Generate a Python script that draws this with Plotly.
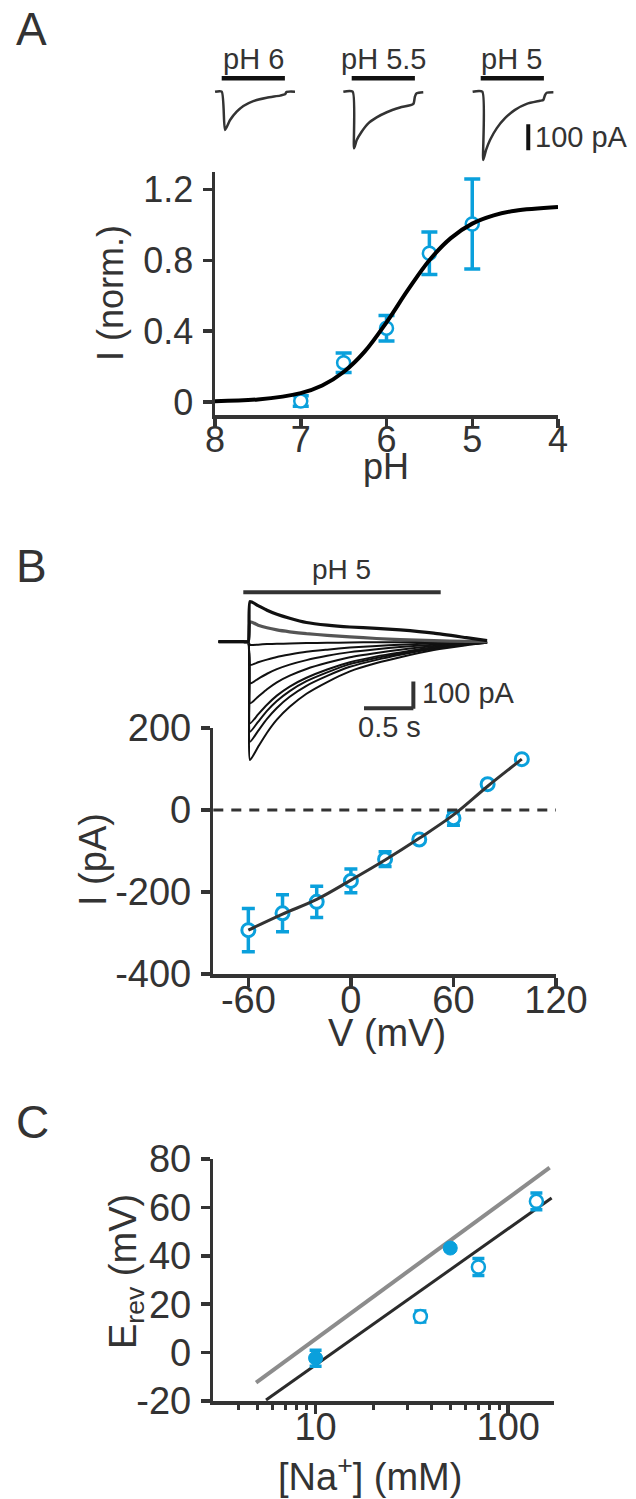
import plotly.graph_objects as go

# ---------------- DATA ----------------
# Panel A: pH dose-response (normalised current)
PH = [7.0, 6.5, 6.0, 5.5, 5.0]
I_NORM = [0.005, 0.222, 0.417, 0.841, 1.006]
I_NORM_ERR = [0.03, 0.055, 0.072, 0.12, 0.254]
PH_TICKS = [8, 7, 6, 5, 4]
I_NORM_TICKS = [0, 0.4, 0.8, 1.2]
I_NORM_TICKTEXT = ["0", "0.4", "0.8", "1.2"]
# Hill fit curve
FIT_PH = [8.0, 7.5, 7.0, 6.75, 6.5, 6.25, 6.0, 5.75, 5.5, 5.25, 5.0, 4.75, 4.5, 4.0]
FIT_I_NORM = [0.004, 0.014, 0.050, 0.093, 0.169, 0.287, 0.450, 0.633, 0.801,
              0.926, 1.008, 1.055, 1.081, 1.102]

# Panel A example traces (time in s from start of application, current in pA)
T_PH6 = [-0.42, 0.0, 0.21, 0.53, 0.95, 1.37, 2.0, 2.85, 3.69, 4.01, 4.11, 4.64]
I_PH6 = [0, 0, -147, -109, -77, -55, -36, -23, -15, -10, -1, 0]
T_PH55 = [-0.53, 0.06, 0.15, 0.32, 0.63, 1.05, 1.58, 2.22, 3.06, 3.9, 4.0, 4.11, 4.53]
I_PH55 = [0, 0, -218, -186, -154, -122, -99, -79, -61, -47, -19, -6, -2]
T_PH5 = [-0.51, 0.1, 0.16, 0.34, 0.59, 1.01, 1.54, 2.17, 2.91, 3.75, 3.96, 4.07, 4.18, 4.6]
I_PH5 = [0, 0, -263, -224, -186, -141, -102, -70, -47, -35, -32, -13, -4, -2]
PH_LABELS = ["pH 6", "pH 5.5", "pH 5"]

# Panel B example family of traces (time s, current pA)
T_B = [-0.25, 0.0, 0.05, 0.068, 0.15, 0.24, 0.34, 0.47, 0.64, 0.85, 1.08, 1.35, 1.59, 1.93, 2.26, 2.47]
TRACES_B = [
    [0, 0, 0, -443, -394, -341, -292, -244, -195, -151, -111, -80, -58, -31, -13, -4],
    [0, 0, 0, -375, -334, -289, -248, -206, -165, -128, -94, -68, -49, -26, -11, -4],
    [0, 0, 0, -337, -300, -259, -222, -185, -148, -115, -84, -61, -44, -24, -10, -3],
    [0, 0, 0, -306, -272, -236, -202, -168, -135, -104, -77, -55, -40, -21, -9, -3],
    [0, 0, 0, -231, -206, -178, -152, -127, -102, -79, -58, -42, -30, -16, -7, -2],
    [0, 0, 0, -156, -139, -120, -103, -86, -69, -53, -39, -28, -20, -11, -5, -2],
    [0, 0, 0, -87, -77, -67, -57, -48, -38, -30, -22, -16, -11, -6, -3, -1],
    [0, 0, 0, -12, -11, -9, -8, -7, -5, -4, -3, -2, -2, -1, 0, 0],
    [0, 0, 0, 75, 62, 52, 44, 37, 30, 24, 18, 12, 8, 4, 1, 0],
    [0, 0, 0, 150, 135, 118, 103, 88, 72, 62, 55, 50, 44, 32, 15, 4],
]

# Panel B I-V
V_MV = [-60, -40, -20, 0, 20, 40, 60, 80, 100]
I_PA = [-293, -252, -224, -173, -120, -72, -20, 63, 124]
I_PA_ERR = [53, 45, 38, 29, 18, 5, 17, 7, 5]
FIT_V = [-60, -40, -20, 0, 20, 40, 60, 80, 100]
FIT_I_PA = [-293, -254, -218, -171, -122, -69, -12, 58, 124]
V_TICKS = [-60, 0, 60, 120]
I_PA_TICKS = [-400, -200, 0, 200]

# Panel C: reversal potential vs [Na+]
NA_OPEN = [35, 70, 140]
E_OPEN = [14.9, 35.4, 62.5]
E_OPEN_ERR = [2.3, 3.5, 3.5]
NA_FILLED = [10, 50]
E_FILLED = [-2.3, 43.2]
E_FILLED_ERR = [3.3, 1.0]
GRAY_LINE_NA = [4.91, 164]
GRAY_LINE_E = [-12.4, 76.4]
BLACK_LINE_NA = [5.53, 168]
BLACK_LINE_E = [-19.6, 63.9]
NA_TICKS = [10, 100]
NA_MINOR = [4, 5, 6, 7, 8, 9, 20, 30, 40, 50, 60, 70, 80, 90]
E_TICKS = [-20, 0, 20, 40, 60, 80]

# ---------------- STYLE / GEOMETRY ----------------
W, H = 636, 1499
def px(x):
    return x / W
def py(y):
    return 1 - y / H

DARK = "#333333"
CYAN = "#0AA0DC"
FONT = "Liberation Sans, Arial, sans-serif"
TICK_A = 36
TICK_BC = 38
LBL = 29

fig = go.Figure()

# ---- Panel A dose response ----
fig.add_trace(go.Scatter(
    x=PH, y=I_NORM, mode="markers", xaxis="x", yaxis="y",
    marker=dict(symbol="circle", size=13, color="white", line=dict(color=CYAN, width=2.5)),
    error_y=dict(type="data", array=I_NORM_ERR, color=CYAN, thickness=3.5, width=8),
    cliponaxis=False, showlegend=False))
fig.add_trace(go.Scatter(
    x=FIT_PH, y=FIT_I_NORM, mode="lines", xaxis="x", yaxis="y",
    line=dict(color="#000000", width=4, shape="spline"), showlegend=False))

# ---- Panel A example traces ----
for t, i, ax in [(T_PH6, I_PH6, "x2"), (T_PH55, I_PH55, "x3"), (T_PH5, I_PH5, "x4")]:
    fig.add_trace(go.Scatter(x=t, y=i, mode="lines", xaxis=ax, yaxis="y2",
                             line=dict(color=DARK, width=2.5, shape="spline", smoothing=0.6),
                             showlegend=False))

# ---- Panel B traces ----
for k, tr in enumerate(TRACES_B):
    fig.add_trace(go.Scatter(x=T_B, y=tr, mode="lines", xaxis="x5", yaxis="y5",
                             line=dict(color="#555555" if k == 8 else "#111111",
                                       width=3.2 if k >= 8 else 2, shape="spline", smoothing=0.5),
                             showlegend=False))

# ---- Panel B IV ----
fig.add_trace(go.Scatter(
    x=V_MV, y=I_PA, mode="markers", xaxis="x6", yaxis="y6",
    marker=dict(symbol="circle", size=13, color="white", line=dict(color=CYAN, width=3)),
    error_y=dict(type="data", array=I_PA_ERR, color=CYAN, thickness=3.5, width=6.5),
    cliponaxis=False, showlegend=False))
fig.add_trace(go.Scatter(
    x=FIT_V, y=FIT_I_PA, mode="lines", xaxis="x6", yaxis="y6",
    line=dict(color=DARK, width=3, shape="spline"), showlegend=False))

# ---- Panel C ----
fig.add_trace(go.Scatter(
    x=GRAY_LINE_NA, y=GRAY_LINE_E, mode="lines", xaxis="x7", yaxis="y7",
    line=dict(color="#8C8C8C", width=4), showlegend=False))
fig.add_trace(go.Scatter(
    x=BLACK_LINE_NA, y=BLACK_LINE_E, mode="lines", xaxis="x7", yaxis="y7",
    line=dict(color="#2B2B2B", width=3), showlegend=False))
fig.add_trace(go.Scatter(
    x=NA_OPEN, y=E_OPEN, mode="markers", xaxis="x7", yaxis="y7",
    marker=dict(symbol="circle", size=13, color="white", line=dict(color=CYAN, width=2.5)),
    error_y=dict(type="data", array=E_OPEN_ERR, color=CYAN, thickness=3.5, width=6),
    cliponaxis=False, showlegend=False))
fig.add_trace(go.Scatter(
    x=NA_FILLED, y=E_FILLED, mode="markers", xaxis="x7", yaxis="y7",
    marker=dict(symbol="circle", size=14, color=CYAN, line=dict(color=CYAN, width=1)),
    error_y=dict(type="data", array=E_FILLED_ERR, color=CYAN, thickness=3.5, width=6),
    cliponaxis=False, showlegend=False))

AX = dict(showline=True, linecolor=DARK, linewidth=3.5, ticks="outside", tickcolor=DARK,
          tickwidth=3.5, ticklen=9, showgrid=False, zeroline=False, fixedrange=True,
          automargin=False, ticklabelstandoff=2,
          tickfont=dict(family=FONT, size=TICK_BC, color=DARK))
XSTAND = -19
HID = dict(visible=False, showgrid=False, zeroline=False, fixedrange=True, automargin=False)

A_PXS = 15.8        # px per second, panel A traces
A_PXPA = 0.26       # px per pA, panel A traces
A_BASE = 91.7       # baseline y (px)
A_ONSETS = [221.7, 351.7, 480.7]
A_TR = [-0.6, 4.8]
A_IR = [-300, 80]

B_PXS = 98.7
B_PXPA = 0.267
B_BASE = 641.7
B_ONSET = 243.3
B_TR = [-0.3, 2.5]
B_IR = [-480, 306]

def a_dom(on):
    return [px(on + A_TR[0] * A_PXS), px(on + A_TR[1] * A_PXS)]

layout = dict(
    template="none",
    width=W, height=H, autosize=False,
    margin=dict(l=0, r=0, t=0, b=0, pad=0, autoexpand=False),
    paper_bgcolor="white", plot_bgcolor="rgba(0,0,0,0)",
    font=dict(family=FONT, color=DARK),
    showlegend=False,
    # Panel A main
    xaxis=dict(AX, domain=[px(215), px(558)], range=[8, 4], anchor="y",
               tickvals=PH_TICKS, ticktext=[str(v) for v in PH_TICKS], ticklabelstandoff=XSTAND,
               tickfont=dict(family=FONT, size=TICK_A, color=DARK)),
    yaxis=dict(AX, domain=[py(415), py(172)], range=[-0.074, 1.30], anchor="x",
               tickvals=I_NORM_TICKS, ticktext=I_NORM_TICKTEXT,
               tickfont=dict(family=FONT, size=TICK_A, color=DARK)),
    # Panel A traces
    xaxis2=dict(HID, domain=a_dom(A_ONSETS[0]), range=A_TR, anchor="y2"),
    xaxis3=dict(HID, domain=a_dom(A_ONSETS[1]), range=A_TR, anchor="y2"),
    xaxis4=dict(HID, domain=a_dom(A_ONSETS[2]), range=A_TR, anchor="y2"),
    yaxis2=dict(HID, domain=[py(A_BASE - A_IR[0] * A_PXPA), py(A_BASE - A_IR[1] * A_PXPA)],
                range=A_IR, anchor="x2"),
    # Panel B traces
    xaxis5=dict(HID, domain=[px(B_ONSET + B_TR[0] * B_PXS), px(B_ONSET + B_TR[1] * B_PXS)],
                range=B_TR, anchor="y5"),
    yaxis5=dict(HID, domain=[py(B_BASE - B_IR[0] * B_PXPA), py(B_BASE - B_IR[1] * B_PXPA)],
                range=B_IR, anchor="x5"),
    # Panel B IV
    xaxis6=dict(AX, domain=[px(213.3), px(556)], range=[-80.5, 120], anchor="y6",
                tickvals=V_TICKS, ticktext=[str(v) for v in V_TICKS], ticklabelstandoff=XSTAND),
    yaxis6=dict(AX, domain=[py(974), py(728)], range=[-400, 200], anchor="x6",
                tickvals=I_PA_TICKS, ticktext=[str(v) for v in I_PA_TICKS]),
    # Panel C
    xaxis7=dict(AX, type="log", domain=[px(213.3), px(553.7)], range=[0.469, 2.236], anchor="y7",
                tickvals=NA_TICKS, ticktext=[str(v) for v in NA_TICKS], ticklabelstandoff=XSTAND,
                minor=dict(tickvals=NA_MINOR, ticks="outside", ticklen=5, tickwidth=3,
                           tickcolor=DARK, showgrid=False)),
    yaxis7=dict(AX, domain=[py(1401), py(1159)], range=[-20, 80], anchor="x7",
                tickvals=E_TICKS, ticktext=[str(v) for v in E_TICKS]),
)
fig.update_layout(**layout)

shapes = []
# stimulus bars panel A (t 0..4 s, drawn above baseline)
for ax in ["x2", "x3", "x4"]:
    shapes.append(dict(type="line", xref=ax, yref="y2", x0=0, x1=4.0, y0=51.5, y1=51.5,
                       line=dict(color="#111111", width=4.5)))
# 100 pA scale bar (panel A)
shapes.append(dict(type="line", xref="x4", yref="y2", x0=3.01, x1=3.01, y0=-125, y1=-225,
                   line=dict(color="#111111", width=4)))
# panel B stimulus bar and scale bars
shapes.append(dict(type="line", xref="x5", yref="y5", x0=0, x1=2.0, y0=185, y1=185,
                   line=dict(color=DARK, width=4)))
shapes.append(dict(type="line", xref="x5", yref="y5", x0=1.223, x1=1.723, y0=-249.4, y1=-249.4,
                   line=dict(color=DARK, width=4)))
shapes.append(dict(type="line", xref="x5", yref="y5", x0=1.723, x1=1.723, y0=-251.4, y1=-149.4,
                   line=dict(color=DARK, width=4)))
# zero line panel B IV
shapes.append(dict(type="line", xref="x6 domain", yref="y6", x0=0, x1=1, y0=0, y1=0,
                   line=dict(color=DARK, width=3, dash="10px,8px")))
fig.update_layout(shapes=shapes)

def ann(text, x, y, size, angle=0, xanchor="center", yanchor="middle"):
    return dict(text=text, x=px(x), y=py(y), xref="paper", yref="paper", showarrow=False,
                font=dict(family=FONT, size=size, color=DARK), textangle=angle,
                xanchor=xanchor, yanchor=yanchor, borderpad=0)

anns = [
    ann("A", 31, 29, 46),
    ann("B", 31, 566, 46),
    ann("C", 32, 1122, 46),
    ann(PH_LABELS[0], 253.3, 59, LBL),
    ann(PH_LABELS[1], 383.3, 59, LBL),
    ann(PH_LABELS[2], 511.7, 59, LBL),
    ann("100 pA", 534, 137, LBL, xanchor="left"),
    ann("pH", 386, 466, 36),
    ann("I (norm.)", 110, 293, 36, angle=-90),
    ann("pH 5", 341.7, 569, 28),
    ann("100 pA", 421, 693, LBL, xanchor="left"),
    ann("0.5 s", 389, 727, LBL),
    ann("V (mV)", 387, 1033, 38),
    ann("I (pA)", 93, 860, 38, angle=-90),
    ann("E<sub>rev</sub> (mV)", 126, 1272, 38, angle=-90),
    ann("[Na<sup>+</sup>] (mM)", 370, 1474, 38),
]
fig.update_layout(annotations=anns)

fig.write_html("out.html",
               config={"displayModeBar": False, "staticPlot": True},
               post_script="document.body.style.margin='0px';"
                           "document.body.style.padding='0px';"
                           "document.body.style.overflow='hidden';")
